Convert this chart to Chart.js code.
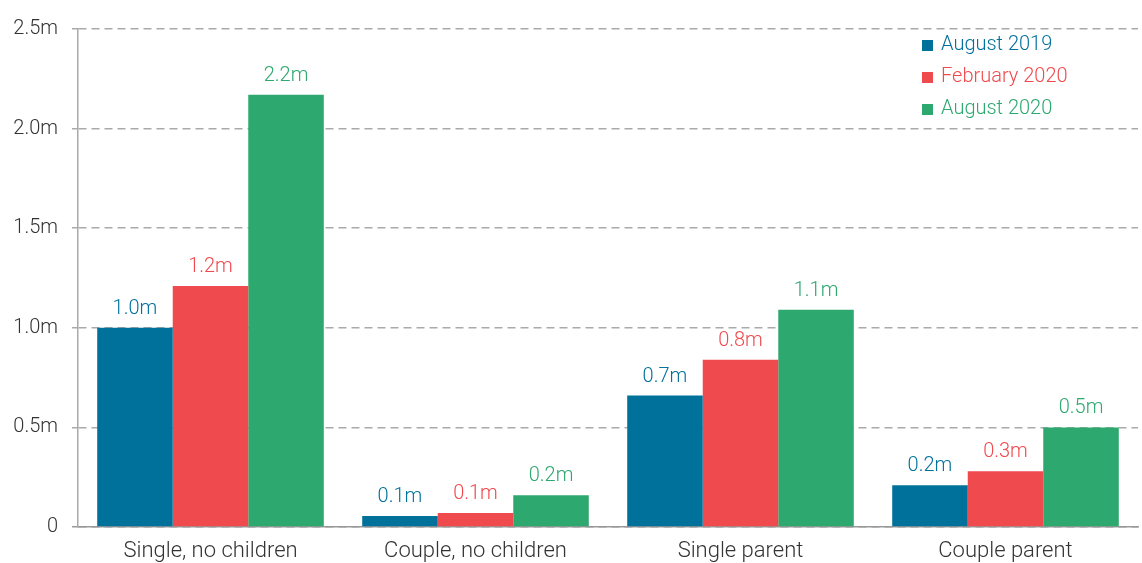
<!DOCTYPE html>
<html>
<head>
<meta charset="utf-8">
<script src="https://cdn.jsdelivr.net/npm/chart.js@4"></script>
<style>
  body { margin: 0; background: #fff; }
  #wrap { width: 1142px; height: 563px; position: relative; }
</style>
</head>
<body>
<div id="wrap"><canvas id="myChart"></canvas></div>
<script>
const categories = ["Single, no children", "Couple, no children", "Single parent", "Couple parent"];
const seriesNames = ["August 2019", "February 2020", "August 2020"];
const aug2019 = [1.0, 0.055, 0.66, 0.21];
const feb2020 = [1.21, 0.07, 0.84, 0.28];
const aug2020 = [2.17, 0.16, 1.09, 0.5];
const yTicks = [0, 0.5, 1.0, 1.5, 2.0, 2.5];
const colors = ['#00719b', '#ef4a4e', '#2da86f'];

const FONT = 'Roboto, "Noto Sans", sans-serif';

// value labels above each bar
const barLabels = {
    id: 'barLabels',
    afterDatasetsDraw(chart) {
        const ctx = chart.ctx;
        ctx.save();
        ctx.font = '300 20px ' + FONT;
        ctx.textAlign = 'center';
        ctx.textBaseline = 'bottom';
        chart.data.datasets.forEach((ds, i) => {
            const meta = chart.getDatasetMeta(i);
            ctx.fillStyle = ds.backgroundColor;
            meta.data.forEach((bar, j) => {
                ctx.fillText(ds.data[j].toFixed(1) + 'm', bar.x, bar.y - 9);
            });
        });
        ctx.restore();
    }
};

// vertical legend in top-right corner
const cornerLegend = {
    id: 'cornerLegend',
    afterDraw(chart) {
        const ctx = chart.ctx;
        ctx.save();
        ctx.font = '300 20px ' + FONT;
        ctx.textBaseline = 'middle';
        chart.data.datasets.forEach((ds, i) => {
            const y = 45 + i * 32;
            ctx.fillStyle = ds.backgroundColor;
            ctx.fillRect(922, y - 5, 11, 11);
            ctx.fillText(ds.label, 941, y);
        });
        ctx.restore();
    }
};

const data = {
    labels: categories,
    datasets: [aug2019, feb2020, aug2020].map((vals, i) => ({
        label: seriesNames[i],
        data: vals,
        backgroundColor: colors[i],
        borderWidth: 0,
        categoryPercentage: 0.855,
        barPercentage: 1.0
    }))
};

const config = {
    type: 'bar',
    data: data,
    options: {
        responsive: true,
        maintainAspectRatio: false,
        animation: false,
        layout: { padding: { top: 29, right: 4, left: 0, bottom: 0 } },
        scales: {
            x: {
                grid: { display: false, drawTicks: false },
                border: { display: true, color: '#999', width: 1.5 },
                afterFit(scale) { scale.height = 36; },
                ticks: {
                    color: '#333',
                    padding: 11,
                    font: { family: FONT, size: 22, weight: 300 }
                }
            },
            y: {
                min: 0,
                max: 2.5,
                afterBuildTicks(scale) {
                    scale.ticks = yTicks.map(v => ({ value: v }));
                },
                afterFit(scale) { scale.width = 78; },
                grid: {
                    color: ctx => ctx.tick && ctx.tick.value === 0 ? '#999' : '#aaa',
                    lineWidth: 1.5,
                    tickLength: 6
                },
                border: { display: true, color: '#aaa', width: 1.5, dash: [8, 5] },
                ticks: {
                    color: '#333',
                    padding: 14,
                    font: { family: FONT, size: 20, weight: 300 },
                    callback: v => v === 0 ? '0' : v.toFixed(1) + 'm'
                }
            }
        },
        plugins: {
            legend: { display: false },
            tooltip: { enabled: false }
        }
    },
    plugins: [barLabels, cornerLegend]
};

const myChart = new Chart('myChart', config);
</script>
</body>
</html>
